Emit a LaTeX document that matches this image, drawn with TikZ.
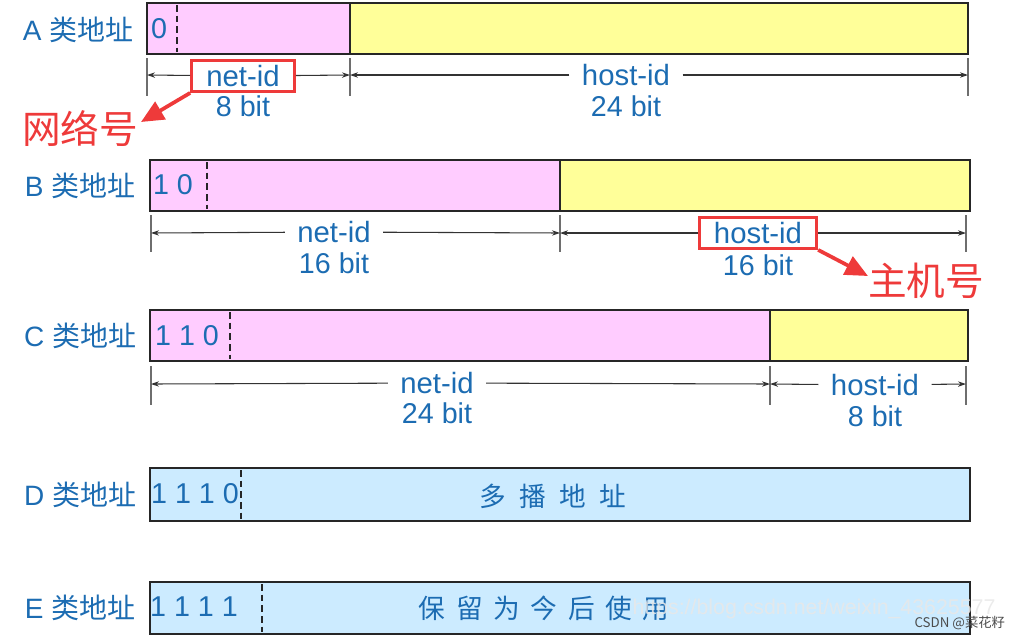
\documentclass[tikz,border=0pt]{standalone}
\usepackage{fontspec}
\setmainfont{Liberation Sans}
\newfontfamily\cjk{Noto Sans CJK SC}
\usetikzlibrary{arrows.meta}

\definecolor{txtblue}{RGB}{28,108,178}
\definecolor{netpink}{RGB}{255,204,255}
\definecolor{hostyellow}{RGB}{255,255,153}
\definecolor{resblue}{RGB}{204,235,255}
\definecolor{markred}{RGB}{238,58,58}
\definecolor{tickgray}{RGB}{110,110,110}

\tikzset{every picture/.style={line width=0.75pt}}

\begin{document}
\begin{tikzpicture}[x=0.75pt,y=0.75pt,yscale=-1,xscale=1,
  classlbl/.style={text=txtblue,font=\fontsize{21}{21}\selectfont,inner sep=0pt},
  bitlbl/.style={text=txtblue,font=\fontsize{21.5}{21.5}\selectfont,inner sep=0pt},
  fieldlbl/.style={text=txtblue,font=\fontsize{22}{22}\selectfont,inner xsep=9pt,inner ysep=2pt},
  markbox/.style={fieldlbl,draw=markred,line width=2.2pt,inner xsep=11pt,inner ysep=3.5pt},
  marktxt/.style={text=markred,font=\cjk\fontsize{29}{29}\selectfont,inner sep=0pt},
  usetxt/.style={text=txtblue,font=\cjk\fontsize{20}{20}\selectfont,inner sep=0pt},
  fieldframe/.style={draw=black!85,line width=1.6pt},
  prefixline/.style={draw=black!85,line width=1.4pt,dash pattern=on 5pt off 3pt},
  tickline/.style={draw=tickgray,line width=1.1pt},
  dimline/.style={draw=black!80,line width=0.8pt,-{Stealth[length=6pt,width=4pt]}},
  callout/.style={draw=markred,fill=markred,line width=2.8pt,-{Triangle[length=17pt,width=15pt]}}]
\useasboundingbox (0,0) rectangle (1029,640);

%A class: 8 bit net-id, 24 bit host-id
\fill[netpink] (147,3) rectangle (350,54);
\fill[hostyellow] (350,3) rectangle (968,54);
\draw[fieldframe] (147,3) rectangle (968,54);
\draw[fieldframe] (350,3) -- (350,54);
\draw[prefixline] (177,5) -- (177,52);
\node[classlbl] (clsA) at (78,30) {A {\cjk 类地址}};
\node[bitlbl] (preA) at (159,29) {0};
%ticks
\draw[tickline] (147,58) -- (147,96);
\draw[tickline] (350,58) -- (350,96);
\draw[tickline] (968,58) -- (968,96);
\coordinate (tA1) at (147,75);
\coordinate (tA2) at (350,75);
\coordinate (tA3) at (968,75);
\node[markbox] (netA) at (243,76) {net-id};
\node[bitlbl] (bitnA) at (243,106) {8 bit};
\node[fieldlbl] (hostA) at (626,75) {host-id};
\node[bitlbl] (bithA) at (626,106) {24 bit};
\draw[dimline] (netA) -- (tA1);
\draw[dimline] (netA) -- (tA2);
\draw[dimline] (hostA) -- (tA2);
\draw[dimline] (hostA) -- (tA3);
%red note
\node[marktxt] (wlh) at (80,129) {网络号};
\coordinate (wltip) at (141,122);
\draw[callout] (netA.south west) -- (wltip);

%B class: 16 bit net-id, 16 bit host-id
\fill[netpink] (150,160) rectangle (560,211);
\fill[hostyellow] (560,160) rectangle (970,211);
\draw[fieldframe] (150,160) rectangle (970,211);
\draw[fieldframe] (560,160) -- (560,211);
\draw[prefixline] (207,162) -- (207,209);
\node[classlbl] (clsB) at (80,186) {B {\cjk 类地址}};
\node[bitlbl] (preB) at (173,185) {1 0};
%ticks
\draw[tickline] (151,215) -- (151,252);
\draw[tickline] (560,215) -- (560,252);
\draw[tickline] (966,215) -- (966,252);
\coordinate (tB1) at (151,233);
\coordinate (tB2) at (560,233);
\coordinate (tB3) at (966,233);
\node[fieldlbl] (netB) at (334,232) {net-id};
\node[bitlbl] (bitnB) at (334,263) {16 bit};
\node[markbox] (hostB) at (758,233) {host-id};
\node[bitlbl] (bithB) at (758,265) {16 bit};
\draw[dimline] (netB) -- (tB1);
\draw[dimline] (netB) -- (tB2);
\draw[dimline] (hostB) -- (tB2);
\draw[dimline] (hostB) -- (tB3);
%red note
\node[marktxt] (zjh) at (926,281) {主机号};
\coordinate (zjtip) at (868,276);
\draw[callout] (hostB.south east) -- (zjtip);

%C class: 24 bit net-id, 8 bit host-id
\fill[netpink] (150,310) rectangle (770,361);
\fill[hostyellow] (770,310) rectangle (968,361);
\draw[fieldframe] (150,310) rectangle (968,361);
\draw[fieldframe] (770,310) -- (770,361);
\draw[prefixline] (230,312) -- (230,359);
\node[classlbl] (clsC) at (80,336) {C {\cjk 类地址}};
\node[bitlbl] (preC) at (187,336) {1 1 0};
%ticks
\draw[tickline] (151,366) -- (151,405);
\draw[tickline] (770,366) -- (770,405);
\draw[tickline] (966,366) -- (966,405);
\coordinate (tC1) at (151,384);
\coordinate (tC2) at (770,384);
\coordinate (tC3) at (966,384);
\node[fieldlbl] (netC) at (437,383) {net-id};
\node[bitlbl] (bitnC) at (437,413) {24 bit};
\node[fieldlbl] (hostC) at (875,385) {host-id};
\node[bitlbl] (bithC) at (875,416) {8 bit};
\draw[dimline] (netC) -- (tC1);
\draw[dimline] (netC) -- (tC2);
\draw[dimline] (hostC) -- (tC2);
\draw[dimline] (hostC) -- (tC3);

%D class: multicast
\draw[fieldframe,fill=resblue] (150,468) rectangle (970,521);
\draw[prefixline] (241,470) -- (241,519);
\node[classlbl] (clsD) at (80,495) {D {\cjk 类地址}};
\node[bitlbl] (preD) at (195,494) {1 1 1 0};
\node[usetxt] (useD) at (553,496) {多\hspace{10pt}播\hspace{10pt}地\hspace{10pt}址};

%E class: reserved
\draw[fieldframe,fill=resblue] (150,582) rectangle (970,634);
\draw[prefixline] (262,584) -- (262,632);
\node[classlbl] (clsE) at (80,608) {E {\cjk 类地址}};
\node[bitlbl] (preE) at (194,607) {1 1 1 1};
\node[usetxt] (useE) at (544,608) {保\hspace{8pt}留\hspace{8pt}为\hspace{8pt}今\hspace{8pt}后\hspace{8pt}使\hspace{8pt}用};

%watermark
\node[text=white!82!gray,opacity=0.85,font=\fontsize{16}{16}\selectfont,anchor=west,inner sep=0pt] (wmurl) at (632,609) {https://blog.csdn.net/weixin\_43625577};
\node[text=black!70,font=\cjk\fontsize{10}{10}\selectfont,anchor=west,inner sep=0pt] (wmname) at (914,623) {CSDN @菜花籽};

\end{tikzpicture}
\end{document}
